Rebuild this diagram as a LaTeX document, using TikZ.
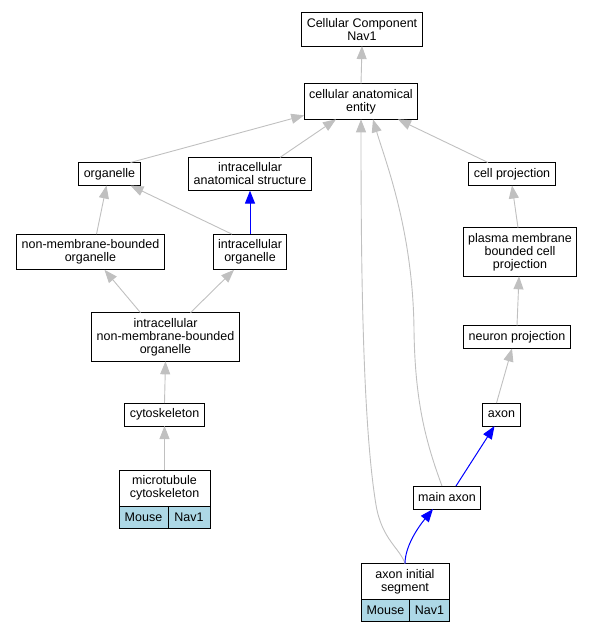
\documentclass[tikz,border=0pt]{standalone}
\usepackage{fontspec}
\setmainfont{Liberation Sans}
\usetikzlibrary{arrows.meta, positioning}
\definecolor{edgegray}{RGB}{192,192,192}
\definecolor{cellblue}{RGB}{173,216,230}
\definecolor{isblue}{RGB}{0,0,255}

\begin{document}
\begin{tikzpicture}[x=1pt, y=-1pt]
	\tikzstyle{box}=[draw, line width=1pt, align=center, inner xsep=5pt, inner ysep=5.5pt,
	  minimum height=23pt, outer sep=0pt, font=\fontsize{12.5}{13}\selectfont]
	\tikzstyle{cell}=[box, fill=cellblue, minimum height=22pt, inner ysep=3pt]
	\tikzstyle{isa}=[-{Triangle[length=13pt,width=10pt]}, color=edgegray, line width=0.9pt]
	\tikzstyle{part}=[-{Triangle[length=13pt,width=10pt]}, color=isblue, line width=1pt]
	\useasboundingbox (0,0) rectangle (595,632);
	\node[box] (ccn) at (362,29.5) {Cellular Component\\Nav1};
	\node[box] (cae) at (361,101.5) {cellular anatomical\\entity};
	\node[box] (org) at (109.5,174) {organelle};
	\node[box] (ias) at (250,174) {intracellular\\anatomical structure};
	\node[box] (cp) at (512,174) {cell projection};
	\node[box] (nmbo) at (90.5,252) {non-membrane-bounded\\organelle};
	\node[box] (iorg) at (250,252) {intracellular\\organelle};
	\node[box] (pmb) at (520,252) {plasma membrane\\bounded cell\\projection};
	\node[box] (inmbo) at (165.5,337) {intracellular\\non-membrane-bounded\\organelle};
	\node[box] (np) at (517,337) {neuron projection};
	\node[box] (cyto) at (164.5,414.5) {cytoskeleton};
	\node[box] (axon) at (501.5,414.5) {axon};
	\node[box, minimum width=91pt, minimum height=36pt] (mc) at (164.5,488) {microtubule\\cytoskeleton};
	\node[cell, minimum width=49pt, anchor=north west] (mcmouse) at (mc.south west) {Mouse};
	\node[cell, minimum width=42pt, anchor=north east] (mcnav) at (mc.south east) {Nav1};
	\node[box] (ma) at (447,497.5) {main axon};
	\node[box, minimum width=88pt, minimum height=35pt] (ais) at (405,581.5) {axon initial\\segment};
	\node[cell, minimum width=49pt, anchor=north west] (aismouse) at (ais.south west) {Mouse};
	\node[cell, minimum width=39pt, anchor=north east] (aisnav) at (ais.south east) {Nav1};
	\draw[isa] (cae.north) -- (ccn.south);
	\draw[isa] ([xshift=21pt]org.north) -- ([yshift=4pt]cae.south west);
	\draw[isa] ([xshift=30pt]ias.north) -- ([xshift=-25pt]cae.south);
	\draw[isa] (ais.north) .. controls (400,548) and (382,540) .. (376,505)
	  .. controls (362,420) and (361,250) .. (cae.south);
	\draw[isa] ([xshift=-5pt]ma.north) .. controls (425,440) and (415,400) .. (414,330)
	  .. controls (413,230) and (385,160) .. ([xshift=12pt]cae.south);
	\draw[isa] ([xshift=-24pt]cp.north) -- ([xshift=37pt]cae.south);
	\draw[isa] ([xshift=6pt]nmbo.north) -- ([xshift=-3pt]org.south);
	\draw[isa] ([xshift=-18pt]iorg.north) -- ([xshift=21pt]org.south);
	\draw[part] (iorg.north) -- (ias.south);
	\draw[isa] ([xshift=-25pt]inmbo.north) -- ([xshift=14pt]nmbo.south);
	\draw[isa] ([xshift=25pt]inmbo.north) -- ([xshift=-16pt]iorg.south);
	\draw[isa] (cyto.north) -- (inmbo.south);
	\draw[isa] (mc.north) -- (cyto.south);
	\draw[isa] ([xshift=-2pt]pmb.north) -- (cp.south);
	\draw[isa] (np.north) -- ([xshift=-1pt]pmb.south);
	\draw[isa] ([xshift=-5pt]axon.north) -- ([xshift=-5pt]np.south);
	\draw[part] ([xshift=9pt]ma.north) -- ([xshift=-7pt]axon.south);
	\draw[part] (ais.north) .. controls (405,545) and (420,525) .. ([xshift=-14pt]ma.south);
\end{tikzpicture}
\end{document}
